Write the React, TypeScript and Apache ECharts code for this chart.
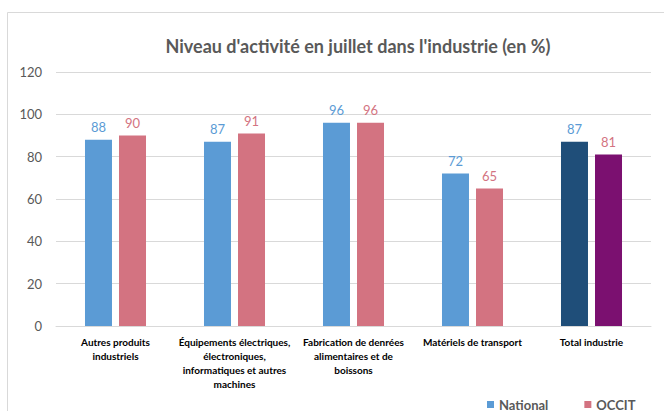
import React, { useEffect, useRef } from "react";
import * as echarts from "echarts";

const categories = [
  "Autres produits\nindustriels",
  "Équipements électriques,\nélectroniques,\ninformatiques et autres\nmachines",
  "Fabrication de denrées\nalimentaires et de\nboissons",
  "Matériels de transport",
  "Total industrie",
];
const nationalValues = [88, 87, 96, 72, 87];
const occitValues = [90, 91, 96, 65, 81];
const yTicks = [0, 20, 40, 60, 80, 100, 120];

const FONT = "Lato, 'Noto Sans', sans-serif";
const BLUE = "#5B9BD5";
const PINK = "#D37381";
const DARK_BLUE = "#1F4E79";
const PURPLE = "#7B1070";

export default function App() {
  const ref = useRef<HTMLDivElement>(null);
  useEffect(() => {
    if (!ref.current) return;
    const chart = echarts.init(ref.current, undefined, { renderer: "svg" });
    const last = categories.length - 1;
    chart.setOption({
      animation: false,
      backgroundColor: "#ffffff",
      textStyle: { fontFamily: FONT },
      graphic: [
        {
          type: "rect",
          shape: { x: 7.5, y: 12.5, width: 700, height: 450 },
          style: { fill: "none", stroke: "#D9D9D9", lineWidth: 1 },
          silent: true,
        },
      ],
      title: {
        text: "Niveau d'activité en juillet dans l'industrie (en %)",
        left: 353,
        top: 32,
        textAlign: "center",
        textStyle: { fontFamily: FONT, fontSize: 18, fontWeight: "bold", color: "#595959" },
      },
      legend: {
        data: ["National", "OCCIT"],
        left: 482,
        top: 393,
        itemWidth: 7,
        itemHeight: 7,
        itemGap: 36,
        icon: "rect",
        textStyle: { fontFamily: FONT, fontSize: 13, fontWeight: "bold", color: "#595959" },
      },
      grid: { left: 56, right: 13, top: 72, bottom: 85, containLabel: false },
      xAxis: {
        type: "category",
        data: categories,
        axisLine: { lineStyle: { color: "#D9D9D9" } },
        axisTick: { show: false },
        axisLabel: {
          interval: 0,
          margin: 9,
          fontFamily: FONT,
          fontSize: 10,
          fontWeight: "bold",
          color: "#000000",
          lineHeight: 14,
        },
      },
      yAxis: {
        type: "value",
        min: yTicks[0],
        max: yTicks[yTicks.length - 1],
        interval: 20,
        axisLine: { show: false },
        axisTick: { show: false },
        splitLine: { lineStyle: { color: "#D9D9D9" } },
        axisLabel: { margin: 14, fontFamily: FONT, fontSize: 13, color: "#595959" },
      },
      series: [
        {
          name: "National",
          type: "bar",
          barWidth: 27,
          barGap: "26%",
          itemStyle: { color: BLUE },
          label: { show: true, position: "top", distance: 6, fontFamily: FONT, fontSize: 13, color: BLUE },
          data: nationalValues.map((v, i) =>
            i === last ? { value: v, itemStyle: { color: DARK_BLUE } } : v
          ),
        },
        {
          name: "OCCIT",
          type: "bar",
          barWidth: 27,
          barGap: "26%",
          itemStyle: { color: PINK },
          label: { show: true, position: "top", distance: 6, fontFamily: FONT, fontSize: 13, color: PINK },
          data: occitValues.map((v, i) =>
            i === last ? { value: v, itemStyle: { color: PURPLE } } : v
          ),
        },
      ],
    });
    return () => chart.dispose();
  }, []);
  return (
    <div
      ref={ref}
      style={{ position: "absolute", left: 0, top: 0, width: 664, height: 411 }}
    />
  );
}
